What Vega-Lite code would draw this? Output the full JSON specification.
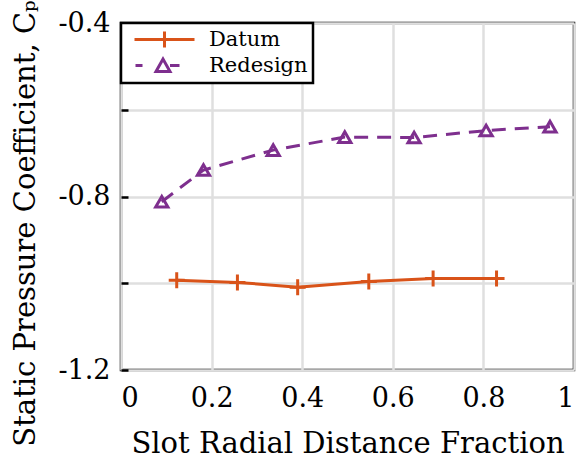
{
  "$schema": "https://vega.github.io/schema/vega-lite/v6.json",
  "width": 453,
  "height": 347,
  "autosize": "none",
  "padding": {"left": 121, "top": 23, "right": 7, "bottom": 92},
  "background": "white",
  "config": {
    "font": "DejaVu Serif",
    "view": {"stroke": "black", "strokeWidth": 2.5},
    "axis": {
      "labelFont": "DejaVu Serif",
      "titleFont": "DejaVu Serif",
      "labelColor": "black",
      "titleColor": "black",
      "titleFontWeight": "normal",
      "gridColor": "#dfdfdf",
      "gridWidth": 2.5,
      "gridOpacity": 1,
      "domain": false
    }
  },
  "data": {
    "values": [
      {"design": "Datum", "fraction": 0.123, "cp": -0.993},
      {"design": "Datum", "fraction": 0.257, "cp": -0.998},
      {"design": "Datum", "fraction": 0.390, "cp": -1.009},
      {"design": "Datum", "fraction": 0.547, "cp": -0.996},
      {"design": "Datum", "fraction": 0.689, "cp": -0.989},
      {"design": "Datum", "fraction": 0.829, "cp": -0.989},
      {"design": "Redesign", "fraction": 0.090, "cp": -0.812},
      {"design": "Redesign", "fraction": 0.182, "cp": -0.739},
      {"design": "Redesign", "fraction": 0.336, "cp": -0.693},
      {"design": "Redesign", "fraction": 0.494, "cp": -0.663},
      {"design": "Redesign", "fraction": 0.647, "cp": -0.664},
      {"design": "Redesign", "fraction": 0.806, "cp": -0.648},
      {"design": "Redesign", "fraction": 0.947, "cp": -0.639}
    ]
  },
  "encoding": {
    "x": {
      "field": "fraction",
      "type": "quantitative",
      "scale": {"domain": [0, 1], "nice": false},
      "axis": {
        "values": [0, 0.2, 0.4, 0.6, 0.8, 1],
        "format": "~g",
        "ticks": false,
        "labelFontSize": 27,
        "labelPadding": 15,
        "title": "Slot Radial Distance Fraction",
        "titleFontSize": 29,
        "titleBaseline": "alphabetic",
        "titleY": 82
      }
    },
    "y": {
      "field": "cp",
      "type": "quantitative",
      "scale": {"domain": [-1.2, -0.4], "nice": false, "zero": false},
      "axis": {
        "values": [-1.2, -1.0, -0.8, -0.6, -0.4],
        "labelExpr": "datum.value > -0.5 ? '-0.4' : (datum.value > -0.7 ? '' : (datum.value > -0.9 ? '-0.8' : (datum.value > -1.1 ? '' : '-1.2')))",
        "ticks": true,
        "tickColor": "black",
        "tickWidth": 2.5,
        "tickSize": -7,
        "labelFontSize": 27,
        "labelPadding": 18,
        "title": "Static Pressure Coefficient, Cₚ",
        "titleFontSize": 29,
        "titleAngle": -90,
        "titleAlign": "center",
        "titleBaseline": "top",
        "titleX": -110,
        "titleY": 200
      }
    },
    "color": {
      "field": "design",
      "type": "nominal",
      "scale": {"domain": ["Datum", "Redesign"], "range": ["#D95319", "#7E2F8E"]},
      "legend": {
        "orient": "top-left",
        "offset": 0,
        "title": null,
        "strokeColor": "black",
        "fillColor": "white",
        "padding": 5,
        "symbolOffset": 27,
        "symbolSize": 400,
        "symbolStrokeWidth": 3,
        "labelFont": "DejaVu Serif",
        "labelFontSize": 21,
        "labelColor": "black",
        "labelOffset": 33,
        "rowPadding": -4,
        "encode": {
          "legend": {"update": {"strokeWidth": {"value": 2.5}}},
          "symbols": {
            "update": {
              "shape": {"signal": "datum.value === 'Datum' ? 'M-3,0L3,0M0,-0.8L0,0.8' : 'M-2.9,0L-2.2,0M-0.85,0.6L-0.15,-0.65L0.55,0.6ZM0.55,0L1.5,0'"},
              "fill": {"value": "transparent"}
            }
          }
        }
      }
    }
  },
  "layer": [
    {
      "transform": [{"filter": "datum.design === 'Datum'"}],
      "mark": {"type": "line", "strokeWidth": 3}
    },
    {
      "transform": [{"filter": "datum.design === 'Redesign'"}],
      "mark": {"type": "line", "strokeWidth": 3, "strokeDash": [14, 9]}
    },
    {
      "transform": [{"filter": "datum.design === 'Datum'"}],
      "mark": {"type": "point", "filled": false, "strokeWidth": 3, "opacity": 1, "shape": "M-1,0L1,0M0,-1L0,1", "size": 256}
    },
    {
      "transform": [{"filter": "datum.design === 'Redesign'"}],
      "mark": {"type": "point", "filled": false, "strokeWidth": 3, "opacity": 1, "shape": "triangle-up", "size": 150}
    }
  ]
}
